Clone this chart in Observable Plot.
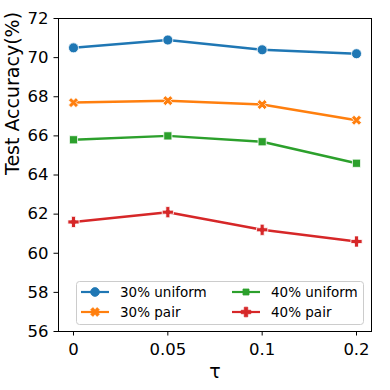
<!DOCTYPE html>
<html>
<head>
<meta charset="utf-8">
<script src="https://cdn.jsdelivr.net/npm/d3@7"></script>
<script src="https://cdn.jsdelivr.net/npm/@observablehq/plot@0.6"></script>
<style>
  html, body { margin: 0; padding: 0; background: #fff; }
  #chart { width: 390px; height: 390px; }
</style>
</head>
<body>
<div id="chart"></div>
<script>
const taus = ["0", "0.05", "0.1", "0.2"];
const seriesNames = ["30% uniform", "30% pair", "40% uniform", "40% pair"];
const colors = ["#1f77b4", "#ff7f0e", "#2ca02c", "#d62728"];
const uniform30 = [70.5, 70.9, 70.4, 70.2];
const pair30 = [67.7, 67.8, 67.6, 66.8];
const uniform40 = [65.8, 66.0, 65.7, 64.6];
const pair40 = [61.6, 62.1, 61.2, 60.6];
const yTicks = [56, 58, 60, 62, 64, 66, 68, 70, 72];

const valueArrays = [uniform30, pair30, uniform40, pair40];
const rows = [];
seriesNames.forEach((s, i) => taus.forEach((t, j) => rows.push({series: s, tau: t, value: valueArrays[i][j]})));

function polyPlus(ctx, h, w, rot) {
  const pts = [[w,h],[w,w],[h,w],[h,-w],[w,-w],[w,-h],[-w,-h],[-w,-w],[-h,-w],[-h,w],[-w,w],[-w,h]];
  const c = Math.cos(rot), s = Math.sin(rot);
  pts.forEach(([x, y], k) => {
    const X = x * c - y * s, Y = x * s + y * c;
    if (k === 0) ctx.moveTo(X, Y); else ctx.lineTo(X, Y);
  });
  ctx.closePath();
}
const symP = { draw(ctx, size) { const r = Math.sqrt(size / Math.PI); polyPlus(ctx, r, r * 0.36, 0); } };
const symX = { draw(ctx, size) { const r = Math.sqrt(size / Math.PI); polyPlus(ctx, r * 1.05, r * 0.36, Math.PI / 4); } };
const symbols = ["circle", symX, "square", symP];
const radii = [5, 5, 4.6, 5.6];

const M = {top: 18, right: 19, bottom: 59, left: 58};
const W = 390, H = 390;

const marks = [];
seriesNames.forEach((s, i) => {
  const d = rows.filter(r => r.series === s);
  marks.push(Plot.line(d, {x: "tau", y: "value", stroke: colors[i], strokeWidth: 2.5}));
});
seriesNames.forEach((s, i) => {
  const d = rows.filter(r => r.series === s);
  marks.push(Plot.dot(d, {x: "tau", y: "value", symbol: symbols[i], r: radii[i], fill: colors[i], stroke: "white", strokeWidth: 0.8}));
});

const chart = Plot.plot({
  width: W, height: H,
  marginTop: M.top, marginRight: M.right, marginBottom: M.bottom, marginLeft: M.left,
  style: {fontFamily: "DejaVu Sans", background: "white", color: "black"},
  x: {type: "point", domain: taus, padding: 0.159, round: false, label: null},
  y: {domain: [56, 72], label: null},
  marks: [
    Plot.axisX({tickSize: 4.5, tickPadding: 7, fontSize: 16.5, label: null, stroke: "black", strokeWidth: 1}),
    Plot.axisY({ticks: yTicks, tickSize: 4.5, tickPadding: 5.5, fontSize: 16.5, label: null, stroke: "black", strokeWidth: 1}),
    ...marks,
    Plot.frame({stroke: "black", strokeWidth: 1}),
    Plot.text(["Test Accuracy(%)"], {frameAnchor: "left", dx: -46, rotate: -90, fontSize: 19, fill: "black"}),
    Plot.text(["τ"], {frameAnchor: "bottom", dy: 40, fontSize: 19, fill: "black", lineAnchor: "middle"})
  ]
});
document.getElementById("chart").appendChild(chart);

// legend overlay inside the frame (lower area)
const svg = d3.select(chart);
const lg = svg.append("g").attr("font-family", "DejaVu Sans").attr("font-size", 13.5).attr("text-anchor", "start");
const bx = M.left + 18.5, by = H - M.bottom - 49.5, bw = 287, bh = 43;
lg.append("rect").attr("x", bx).attr("y", by).attr("width", bw).attr("height", bh)
  .attr("rx", 3).attr("fill", "white").attr("fill-opacity", 0.8).attr("stroke", "#cccccc").attr("stroke-width", 1);
const colX = [bx + 4.5, bx + 155.5];
const rowY = [by + 10.5, by + 30.5];
const legSym = [d3.symbolCircle, symX, d3.symbolSquare, symP];
const legR = [4.4, 4.4, 3.4, 4.8];
seriesNames.forEach((s, i) => {
  const cx = colX[Math.floor(i / 2)], cy = rowY[i % 2];
  lg.append("line").attr("x1", cx).attr("x2", cx + 28).attr("y1", cy).attr("y2", cy)
    .attr("stroke", colors[i]).attr("stroke-width", 2.2);
  lg.append("path").attr("transform", `translate(${cx + 14},${cy})`)
    .attr("d", d3.symbol(legSym[i], Math.PI * legR[i] * legR[i])())
    .attr("fill", colors[i]).attr("stroke", colors[i]).attr("stroke-width", 0.8);
  lg.append("text").attr("x", cx + 39).attr("y", cy).attr("dy", "0.35em")
    .attr("text-anchor", "start").attr("fill", "black").text(s);
});
</script>
</body>
</html>
